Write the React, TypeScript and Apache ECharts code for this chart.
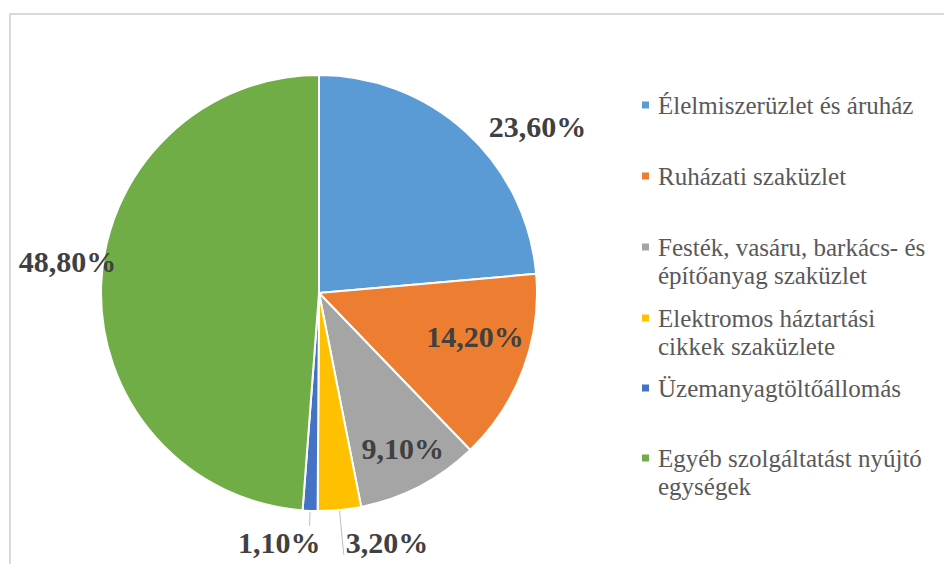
import React, { useEffect, useRef } from "react";
import * as echarts from "echarts";

const categories = [
  "Élelmiszerüzlet és áruház",
  "Ruházati szaküzlet",
  "Festék, vasáru, barkács- és építőanyag szaküzlet",
  "Elektromos háztartási cikkek szaküzlete",
  "Üzemanyagtöltőállomás",
  "Egyéb szolgáltatást nyújtó egységek",
];
const legendText = [
  "Élelmiszerüzlet és áruház",
  "Ruházati szaküzlet",
  "Festék, vasáru, barkács- és\népítőanyag szaküzlet",
  "Elektromos háztartási\ncikkek szaküzlete",
  "Üzemanyagtöltőállomás",
  "Egyéb szolgáltatást nyújtó\negységek",
];
const shares = [23.6, 14.2, 9.1, 3.2, 1.1, 48.8];
const colors = ["#5b9bd5", "#ed7d31", "#a5a5a5", "#ffc000", "#4472c4", "#70ad47"];

// label placement styles (not data)
const labelPos = ["outside", "inside", "inside", "outside", "outside", "outside"];
const lineShow = [false, false, false, true, true, false];
const lineLen = [8, 0, 0, 45, 15, 0];
const lineLen2 = [12, 0, 0, 0, 0, 0];
const labelShift = [
  [0, 0],
  [51, 4],
  [32, 56],
  [-3, -12],
  [16, 17],
  [20, -23],
];
const legendTops = [105, 176, 247, 318, 388, 458];
const SERIF = "'Liberation Serif', 'Times New Roman', Times, serif";

export default function App() {
  const ref = useRef<HTMLDivElement>(null);
  useEffect(() => {
    if (!ref.current) return;
    const chart = echarts.init(ref.current, undefined, { renderer: "svg" });
    const fmt = (v: number) => v.toFixed(2).replace(".", ",") + "%";
    const legends = categories.map((name, i) => {
      const twoLine = legendText[i].indexOf("\n") >= 0;
      return {
        data: [name],
        orient: "vertical" as const,
        left: 642,
        top: legendTops[i] - 14,
        padding: 0,
        itemWidth: 7,
        itemHeight: twoLine ? 35 : 7,
        icon: twoLine ? "path://M0,0L7,0L7,7L0,7Z M0,35L7,35" : "rect",
        itemStyle: { borderWidth: 0 },
        selectedMode: false,
        formatter: (n: string) => legendText[categories.indexOf(n)],
        textStyle: {
          fontFamily: SERIF,
          fontSize: 25,
          lineHeight: 28,
          color: "#595959",
          padding: [0, 0, 0, 4],
        },
      };
    });
    chart.setOption({
      animation: false,
      color: colors,
      legend: legends,
      graphic: [
        {
          type: "rect",
          silent: true,
          z: -10,
          shape: { x: 10, y: 14, width: 1000, height: 700 },
          style: { fill: "none", stroke: "#d9d9d9", lineWidth: 2 },
        },
      ],
      series: [
        {
          type: "pie",
          center: [319, 293],
          radius: 218,
          startAngle: 90,
          clockwise: true,
          avoidLabelOverlap: false,
          itemStyle: { borderColor: "#ffffff", borderWidth: 2 },
          emphasis: { disabled: true },
          label: {
            formatter: (p: any) => fmt(p.value),
            fontFamily: SERIF,
            fontWeight: "bold",
            fontSize: 30,
            color: "#404040",
            overflow: "none",
          },
          labelLine: { lineStyle: { color: "#bfbfbf", width: 1 } },
          labelLayout: (p: any) => ({
            dx: labelShift[p.dataIndex][0],
            dy: labelShift[p.dataIndex][1],
          }),
          data: categories.map((name, i) => ({
            name,
            value: shares[i],
            label: { position: labelPos[i] },
            labelLine: { show: lineShow[i], length: lineLen[i], length2: lineLen2[i] },
          })),
        },
      ],
    });
    return () => chart.dispose();
  }, []);
  return (
    <div
      ref={ref}
      style={{ position: "fixed", left: 0, top: 0, width: 944, height: 564, background: "#fff" }}
    />
  );
}
